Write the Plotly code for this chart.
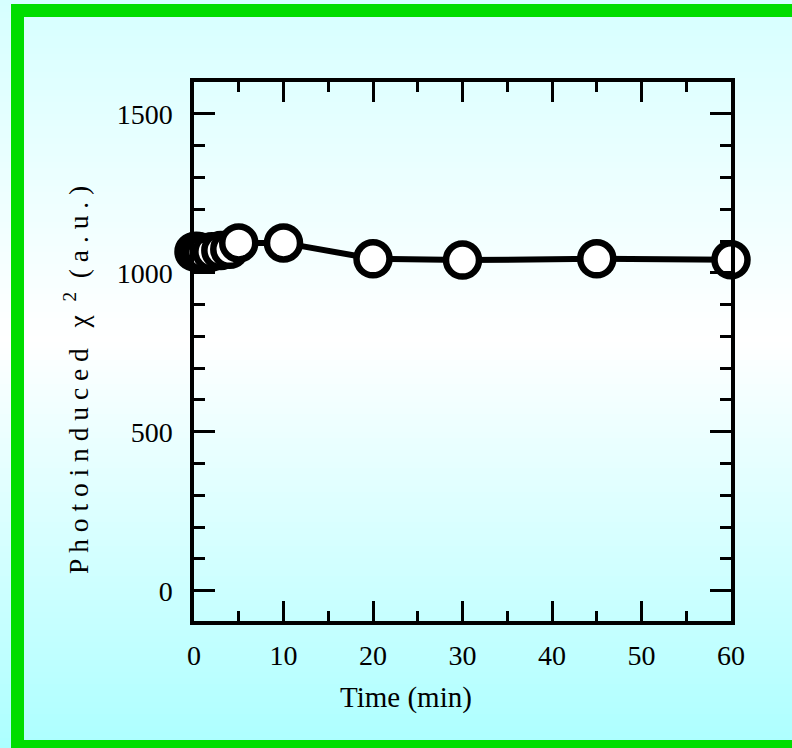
import plotly.graph_objects as go

# Data
time_min = [0, 0.25, 0.5, 1, 2, 3, 4, 5, 10, 20, 30, 45, 60]
chi2 = [1066, 1068, 1066, 1064, 1066, 1070, 1074, 1094, 1094, 1044, 1040, 1044, 1041]

x_ticks = [0, 10, 20, 30, 40, 50, 60]
y_ticks = [0, 500, 1000, 1500]

W, H = 792, 748
L, R, T, B = 194, 731, 82, 621  # plot area in pixels

def px_x(p):
    return (p - L) / (R - L)

def px_y(p):
    return (B - p) / (B - T)

FONT = "Liberation Serif"

fig = go.Figure()
fig.add_trace(go.Scatter(
    x=time_min, y=chi2, mode="lines+markers",
    line=dict(color="black", width=6),
    marker=dict(symbol="circle", size=33, color="white",
                line=dict(color="black", width=6.5)),
    cliponaxis=False, showlegend=False, hoverinfo="skip",
))

# background gradient (light cyan -> white -> cyan)
def grad(py):
    top, mid, bot = (214, 255, 255), (255, 255, 255), (172, 255, 255)
    ym = 340
    if py <= ym:
        t = py / ym
        c = [a + (b - a) * t for a, b in zip(top, mid)]
    else:
        t = (py - ym) / (H - ym)
        c = [a + (b - a) * t for a, b in zip(mid, bot)]
    return "rgb(%d,%d,%d)" % tuple(round(v) for v in c)

shapes = []
step = 6
for y0 in range(0, H, step):
    shapes.append(dict(type="rect", xref="paper", yref="paper", layer="below",
                       x0=px_x(-5), x1=px_x(W + 5), y0=px_y(y0 + step + 0.5), y1=px_y(y0),
                       fillcolor=grad(y0 + step / 2), line=dict(width=0)))
# green frame
shapes.append(dict(type="rect", xref="paper", yref="paper", layer="above",
                   x0=px_x(17.5), x1=px_x(810), y0=px_y(746.5), y1=px_y(10.5),
                   line=dict(color="#00dd00", width=13), fillcolor="rgba(0,0,0,0)"))

axis_common = dict(showline=True, linecolor="black", linewidth=3.5, mirror="ticks",
                   ticks="inside", tickcolor="black", tickwidth=3, showgrid=False,
                   zeroline=False, tickfont=dict(family=FONT, size=28, color="black"))

fig.update_layout(
    width=W, height=H,
    margin=dict(l=L, r=W - R, t=T, b=H - B, pad=0),
    paper_bgcolor="rgba(0,0,0,0)", plot_bgcolor="rgba(0,0,0,0)",
    shapes=shapes,
    xaxis=dict(range=[0, 60], tickvals=x_ticks, ticktext=[str(v) for v in x_ticks],
               ticklen=20, ticklabelstandoff=7,
               minor=dict(dtick=5, tick0=0, ticklen=10, tickwidth=3, tickcolor="black",
                          ticks="inside", showgrid=False),
               **axis_common),
    yaxis=dict(range=[-95, 1600], tickvals=y_ticks, ticktext=[str(v) for v in y_ticks],
               ticklen=21, ticklabelstandoff=12,
               minor=dict(dtick=100, tick0=0, ticklen=11, tickwidth=3, tickcolor="black",
                          ticks="inside", showgrid=False),
               **axis_common),
    annotations=[
        dict(text="Time (min)", xref="paper", yref="paper", x=px_x(406), y=px_y(697),
             xanchor="center", yanchor="middle", showarrow=False,
             font=dict(family=FONT, size=29, color="black")),
        dict(text="P h o t o i n d u c e d \u00a0 χ \u00a0<sup>2</sup>\u00a0 ( a . u . )",
             xref="paper", yref="paper", x=px_x(76), y=px_y(380), textangle=-90,
             xanchor="center", yanchor="middle", showarrow=False,
             font=dict(family=FONT, size=27.5, color="black")),
    ],
)

fig.write_html("out.html", config={"displayModeBar": False},
               post_script="document.body.style.margin='0';document.body.style.overflow='hidden';")
